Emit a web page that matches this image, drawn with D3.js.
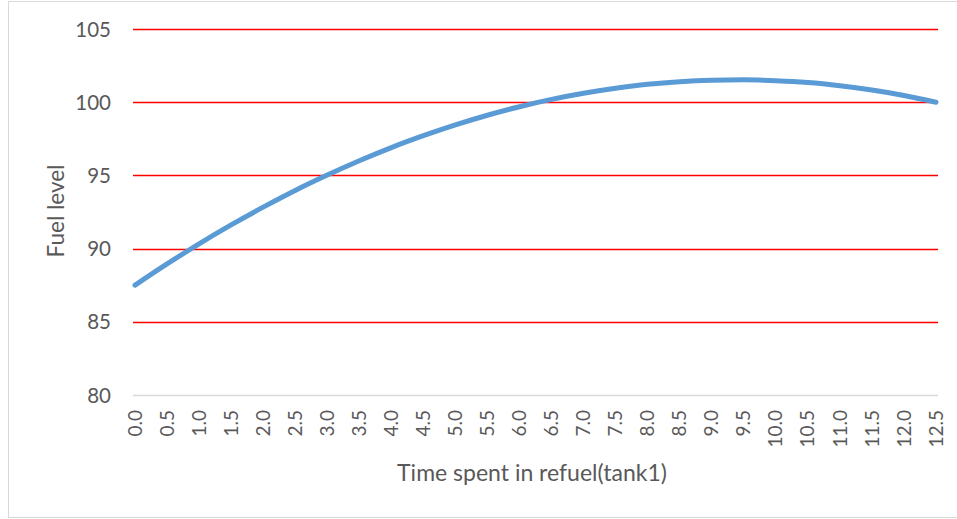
<!DOCTYPE html>
<html>
<head>
<meta charset="utf-8">
<script src="https://cdn.jsdelivr.net/npm/d3@7/dist/d3.min.js"></script>
<style>
  html, body { margin: 0; padding: 0; background: #fff; }
  svg { display: block; }
  text { font-family: Lato, "Open Sans", sans-serif; fill: #595959; }
</style>
</head>
<body>
<svg id="chart" width="957" height="519"></svg>
<script>
const categories = ["0.0","0.5","1.0","1.5","2.0","2.5","3.0","3.5","4.0","4.5","5.0","5.5","6.0","6.5","7.0","7.5","8.0","8.5","9.0","9.5","10.0","10.5","11.0","11.5","12.0","12.5"];
const fuelLevel = [87.50,88.95,90.33,91.62,92.83,93.97,95.02,96.00,96.90,97.71,98.45,99.11,99.69,100.19,100.61,100.95,101.22,101.40,101.50,101.53,101.47,101.34,101.12,100.83,100.46,100.00];
const yTicks = [80,85,90,95,100,105];
const xTitle = "Time spent in refuel(tank1)";
const yTitle = "Fuel level";

const svg = d3.select("#chart");
const plot = { left: 133, right: 938, top: 29, bottom: 395 };

// outer chart border
svg.append("rect")
  .attr("x", 8.5).attr("y", 1.5)
  .attr("width", 960).attr("height", 516)
  .attr("fill", "#fff").attr("stroke", "#d9d9d9").attr("stroke-width", 1);

const x = d3.scalePoint().domain(categories).range([135, 936]);
const y = d3.scaleLinear().domain([80, 105]).range([plot.bottom, plot.top]);

// gridlines
svg.append("g").selectAll("line")
  .data(yTicks.filter(d => d !== 80))
  .join("line")
  .attr("x1", plot.left).attr("x2", plot.right)
  .attr("y1", d => Math.round(y(d)) + 0.5).attr("y2", d => Math.round(y(d)) + 0.5)
  .attr("stroke", "#ff0000").attr("stroke-width", 1.5);

// x axis line
svg.append("line")
  .attr("x1", plot.left).attr("x2", plot.right)
  .attr("y1", Math.round(y(80)) + 0.5).attr("y2", Math.round(y(80)) + 0.5)
  .attr("stroke", "#d9d9d9").attr("stroke-width", 1.5);

// y axis
const yAxis = d3.axisLeft(y).tickValues(yTicks).tickSize(0).tickPadding(0);
const gy = svg.append("g").attr("transform", "translate(111,0)").call(yAxis);
gy.select(".domain").remove();
gy.selectAll("text")
  .style("font-family", "Lato, 'Open Sans', sans-serif")
  .style("font-size", "20.5px").attr("fill", "#595959")
  .attr("dy", "0.35em");

// x axis labels
const xAxis = d3.axisBottom(x).tickSize(0).tickPadding(0);
const gx = svg.append("g").call(xAxis);
gx.select(".domain").remove();
gx.selectAll(".tick").attr("transform", d => `translate(${x(d)},410)`);
gx.selectAll("text")
  .style("font-family", "Lato, 'Open Sans', sans-serif")
  .style("font-size", "19px").attr("fill", "#595959")
  .attr("transform", "rotate(-90)")
  .attr("text-anchor", "end")
  .attr("x", 0).attr("y", 0).attr("dx", 0).attr("dy", "0.35em");

// line
const line = d3.line()
  .x((d, i) => x(categories[i]))
  .y(d => y(d))
  .curve(d3.curveMonotoneX);
svg.append("path")
  .datum(fuelLevel)
  .attr("d", line)
  .attr("fill", "none")
  .attr("stroke", "#5b9bd5")
  .attr("stroke-width", 5)
  .attr("stroke-linecap", "round")
  .attr("stroke-linejoin", "round");

// axis titles
svg.append("text")
  .attr("x", 532).attr("y", 481)
  .attr("text-anchor", "middle")
  .style("font-size", "23px")
  .text(xTitle);

svg.append("text")
  .attr("transform", "translate(64,211) rotate(-90)")
  .attr("text-anchor", "middle")
  .style("font-size", "22.5px")
  .text(yTitle);
</script>
</body>
</html>
